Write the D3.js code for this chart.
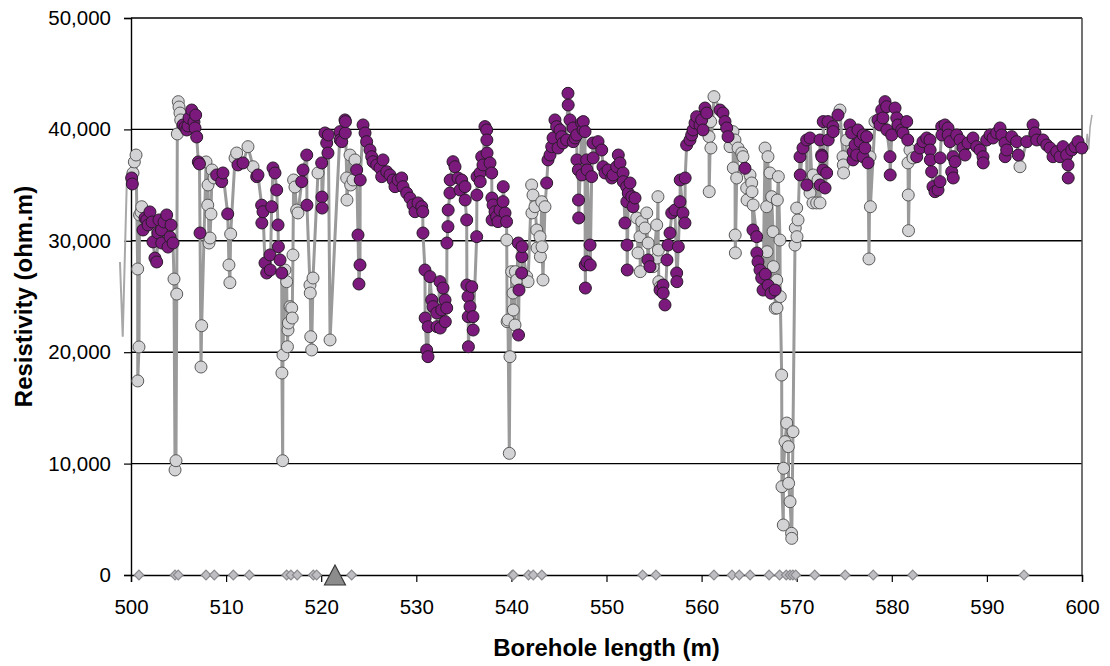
<!DOCTYPE html>
<html><head><meta charset="utf-8">
<script src="https://cdn.jsdelivr.net/npm/d3@7"></script>
<style>
body{margin:0;background:#fff}
svg{display:block}
text{font-family:"Liberation Sans",Arial,Helvetica,sans-serif}
</style>
</head><body>
<svg id="chart" width="1110" height="666"></svg>
<script>
// ---------- DATA ----------
const xTicks = [500,510,520,530,540,550,560,570,580,590,600];
const yTicks = [0,10000,20000,30000,40000,50000];
const xTitle = "Borehole length (m)";
const yTitle = "Resistivity (ohm.m)";

// grey-marked resistivity readings [borehole length m, resistivity ohm.m]
const grayPoints = [
[500.21,36090],[500.35,37080],[500.53,37700],
[500.70,27470],[500.71,17420],[500.84,20470],
[500.90,32320],[501.05,32590],[501.13,33060],
[504.52,26570],[504.63,9430],[504.73,10260],[504.81,25220],
[504.87,39590],[504.97,42490],[505.05,42010],[505.15,41470],[505.23,40850],
[507.36,18670],[507.43,22380],
[507.89,37080],[508.07,33200],[508.10,35010],[508.20,29800],[508.31,30250],[508.41,32400],[508.52,36360],[508.73,35640],
[510.30,27830],[510.40,26240],[510.48,30610],
[510.94,37430],[511.11,37880],[512.30,38450],[512.83,36650],
[515.87,18130],[515.95,10260],[515.98,19750],[516.19,27380],[516.37,26330],[516.45,20490],[516.51,21990],[516.55,22620],[516.72,24090],[516.90,23970],[516.95,23070],
[517.03,28730],[517.10,35460],[517.24,34830],[517.42,32760],[517.56,32500],
[518.82,26030],[518.85,25310],[518.90,21390],[519.00,20200],[519.14,26660],[519.66,36090],
[520.93,21100],
[522.68,35640],[522.71,33660],[523.03,37700],[523.10,35010],[523.34,35460],[523.55,37260],
[539.51,30070],[539.55,22740],[539.64,22890],[539.78,10920],[539.85,19600],[540.03,27230],[540.17,25310],[540.20,23790],[540.38,22440],[540.42,27230],[540.56,26480],
[541.61,26780],[541.75,26330],[542.13,35010],[542.16,32500],[542.27,34110],[542.48,33060],[542.66,30970],[542.70,29350],[543.01,30370],[543.05,28570],[543.19,33510],[543.22,29470],[543.32,26480],[543.53,33060],
[553.18,32050],[553.31,28910],[553.52,30370],[553.55,27230],[553.70,31720],[554.05,31150],[554.23,32500],[554.38,29800],[554.89,27680],[555.28,31420],[555.30,28450],[555.41,33960],[555.45,29170],[555.50,26330],[555.65,25880],
[560.78,39350],[560.80,34410],[560.95,40700],[560.98,38330],[561.30,42940],
[562.99,38450],[563.30,39800],[563.33,36540],[563.51,39050],[563.53,30520],[563.55,28910],[563.69,35640],[563.83,38330],[564.22,37880],[564.35,37550],[564.74,34740],[564.78,33660],[565.09,35910],[565.27,35190],[565.30,34410],[565.42,33220],
[566.67,38330],[566.84,33060],[566.88,29020],[566.98,37550],[567.19,36090],[567.37,33960],[567.51,30820],[567.55,27680],[567.74,23940],[567.90,26480],[567.93,23970],[567.96,33660],[568.07,35760],[568.24,30070],[568.27,24990],
[568.42,17950],[568.45,7930],[568.59,4490],[568.62,9580],[568.77,11970],[568.95,13640],[569.12,11520],[569.15,8230],[569.30,6580],[569.46,3740],[569.48,3290],[569.61,12860],
[569.82,29620],[569.85,31150],[570.00,32940],[570.03,30370],[570.14,31870],
[571.40,34290],[571.71,33400],[571.74,35910],[572.10,33400],[572.24,35460],[572.45,33400],
[574.55,41740],[574.87,37550],[574.90,36810],[574.93,36090],[575.26,39050],
[577.60,28370],[577.71,37550],[577.75,33060],[578.23,40700],
[581.70,36990],[581.73,34110],[581.76,30910],[581.91,38150],[582.23,37440],
[593.48,36650]
];

// purple-marked resistivity readings [borehole length m, resistivity ohm.m]
const purplePoints = [
[500.07,35640],[500.14,35100],
[501.26,30970],[501.47,32050],[501.65,31870],[501.79,31420],[501.99,32590],[502.21,31690],[502.31,29900],[502.52,28450],[502.70,28100],[502.84,30700],[502.94,31870],[503.20,30970],[503.23,29800],[503.47,31690],[503.75,32320],[503.89,29440],[504.10,30340],[504.21,31420],[504.42,29800],
[505.47,40400],[505.68,40220],[505.86,39950],[505.99,40310],[506.10,41030],[506.38,41740],[506.62,40670],[506.73,40130],[506.80,41290],[506.91,39320],[507.08,37080],[507.20,36900],[507.26,30700],
[509.01,35910],[509.54,35310],[509.67,36090],[510.17,32410],
[511.25,36810],[511.78,36990],[513.22,35760],[513.35,35910],
[513.74,33200],[513.76,31600],[513.88,32610],[514.09,28010],[514.27,27110],[514.62,28730],[514.65,27380],[514.79,33060],[514.93,36540],[515.14,36090],[515.32,34560],[515.46,31420],[515.50,29470],[515.67,28280],[515.85,27110],
[517.95,35310],[518.09,36360],[518.48,37700],[518.50,33200],
[520.05,36990],[520.08,33930],[520.10,32940],[520.40,39680],[520.58,38780],[520.71,37880],[520.75,39500],
[521.98,39800],[522.00,39050],[522.16,38900],[522.50,40850],[522.53,39680],[522.55,40700],
[523.73,36360],[523.87,30520],[523.97,26120],[524.08,27830],[524.10,35460],
[524.40,40400],[524.61,39680],[524.78,38900],[525.13,38150],[525.31,37550],[525.45,37100],[525.84,36810],[526.18,36540],[526.36,35760],[526.50,37260],[526.89,36200],[527.23,35910],[527.55,35460],[527.76,34860],[528.08,35460],[528.46,35640],[528.60,34860],[528.99,34290],[529.34,33840],[529.65,33220],[529.86,32610],[530.18,33400],[530.57,33060],[530.68,32610],[530.70,30700],[530.91,27380],[530.93,23070],[531.09,20200],[531.23,19600],[531.25,22290],[531.44,26780],[531.62,24690],[531.76,24090],[532.15,23520],[532.18,22290],[532.49,26330],[532.52,22170],[532.67,23790],[532.81,25760],[533.02,24690],[533.05,22740],[533.20,23970],[533.22,29800],[533.33,31270],[533.35,32760],[533.54,34290],[533.56,35460],[533.86,37100],[534.07,36650],[534.38,35640],[534.60,34560],[534.77,35460],[535.12,34860],[535.14,33660],[535.30,31870],[535.32,26030],[535.44,24990],[535.46,23190],[535.48,20490],[535.65,24090],[535.83,25880],[535.96,23190],[535.98,21990],[536.35,30370],[536.37,34110],[536.39,35760],[536.70,36090],[536.72,35310],[536.88,37550],[537.01,36810],[537.22,40250],[537.40,39950],[537.42,39050],[537.44,37880],[537.75,36990],[537.93,36090],[537.95,33840],[537.97,31870],[538.07,33220],[538.28,32610],[538.45,32160],[538.59,31720],[538.80,32760],[539.12,33510],[539.14,34860],[539.33,32500],[539.49,31720],
[540.73,29800],[540.75,21540],[540.80,25580],[541.08,27110],[541.10,28570],[541.12,29470],
[543.71,35190],[543.85,37260],[544.06,37700],[544.24,38450],[544.38,39230],[544.58,40850],[544.76,40250],[544.90,38330],[545.11,39950],[545.29,39350],[545.43,38780],[545.81,39050],[545.95,43240],[545.97,42190],[546.16,40850],[546.48,40130],[546.50,38900],[546.69,39230],[546.87,39500],[546.89,37260],[547.04,36360],[547.06,33660],[547.08,32050],[547.39,40580],[547.41,35910],[547.53,39950],[547.56,40700],[547.74,39800],[547.76,27830],[547.78,25760],[547.92,37260],[547.94,28120],[547.96,36360],[548.27,29620],[548.29,27830],[548.44,35760],[548.58,38780],[548.60,37440],[549.11,38900],[549.50,38150],[549.63,36650],[549.84,36090],[550.16,36360],[550.55,35640],[550.68,35910],[551.07,36650],[551.24,37700],[551.42,36990],[551.74,36090],[551.76,35310],[551.94,31600],[552.12,34860],[552.14,33510],[552.16,29620],[552.18,27380],[552.29,34290],[552.47,35190],[552.65,33960],[552.79,33060],[553.00,33840],
[554.36,28280],[554.57,27680],[555.63,25580],[555.94,26030],[555.96,25310],[556.15,24240],[556.36,28280],[556.47,29620],[556.68,30700],[556.86,32500],[557.20,32760],[557.38,27110],[557.40,26330],[557.55,29470],[557.73,33510],[557.75,35460],[558.04,32500],[558.25,31600],[558.27,35640],[558.43,38600],[558.78,39050],[558.96,39500],[559.10,39950],[559.31,40580],[559.48,41140],[559.83,40400],[560.01,40850],[560.15,39950],[560.36,41920],[560.54,41470],
[561.94,41740],[562.25,41470],[562.46,40700],[562.64,40130],[562.78,39350],
[564.56,36510],[565.40,30970],[565.79,30370],[565.81,28910],[565.93,28120],[566.14,27380],[566.32,26660],[566.46,25580],[566.70,27000],[567.00,26000],[567.30,25300],[567.72,25580],
[570.35,37550],[570.37,35910],[570.66,38330],[571.05,39050],[571.07,35010],[571.40,39230],[572.45,39050],[572.47,35010],[572.63,37700],[572.65,37550],[572.77,36360],[572.79,40700],[572.98,34740],[573.15,36090],[573.29,40700],[573.31,39050],[573.82,40250],[573.84,39800],[574.34,41290],
[575.60,40400],[575.78,39680],[575.92,37260],[575.94,38000],[576.13,38600],[576.31,37700],[576.44,39950],[576.65,38900],[576.97,37550],[576.99,39500],[577.18,38330],[577.36,39350],[577.50,36990],
[578.55,40850],[578.76,40400],[578.94,41740],[579.07,41030],[579.29,42490],[579.46,42040],[579.48,39950],[579.81,37550],[579.83,35910],[579.99,39500],[580.34,41920],[580.52,41030],[580.65,40400],[581.04,39950],[581.18,39680],[581.57,40700],[581.68,39050],
[582.62,37550],[582.97,38330],[583.28,38900],[583.67,39230],[584.01,39050],[584.03,38150],[584.05,37260],[584.19,36200],[584.33,34860],[584.54,34410],[584.86,34560],[585.07,35310],[585.09,37440],[585.25,40250],[585.27,39500],[585.59,40400],[585.91,40130],[585.93,39500],[586.12,38900],[586.30,36200],[586.44,37550],[586.46,35640],[586.65,37100],
[586.82,39500],[587.17,39050],[587.49,38330],[587.70,37700],[588.01,38780],[588.54,39230],[588.93,38450],[589.27,38150],[589.59,37550],[589.61,36990],[589.98,39050],[590.33,39500],[590.64,39230],[591.03,39680],[591.38,40130],[591.56,39500],[591.90,38780],[591.92,37550],[592.08,38150],[592.61,39350],[593.13,38900],[593.30,37700],[594.19,38900],[594.85,40400],[595.06,39680],[595.24,39050],[595.90,39050],[596.29,38600],[596.64,38330],[596.95,37550],[597.34,38000],[597.69,37550],[598.00,38450],[598.39,37700],[598.53,36810],[598.55,35640],[598.92,38150],[599.26,38450],[599.58,38900],[599.97,38330]
];

// trace segments drawn past the plot edges
const leftTail = [[498.84,28100],[499.00,24400],[499.13,21400],[499.58,36000],[499.80,36200]];
const rightTail = [[600.15,38600],[600.35,37800],[600.55,39600],[600.70,38200],[600.85,40200],[601.05,41300]];

// markers on the zero line
const fractureDepths = [500.84,504.63,504.97,507.89,508.76,510.76,512.44,516.37,516.82,517.48,519.17,519.52,523.2,540.1,540.2,541.8,542.3,543.2,553.8,555.2,561.3,563.2,563.96,565.1,567.1,568.2,568.9,569.3,569.6,569.9,571.9,575.1,578.05,582.2,593.9];
const triangleDepths = [521.45];

// ---------- CHART ----------
const svg = d3.select("#chart");
const X0 = 131, X1 = 1082, Y0 = 575, Y1 = 18;
const x = d3.scaleLinear().domain([500,600]).range([X0,X1]);
const y = d3.scaleLinear().domain([0,50000]).range([Y0,Y1]);

// gridlines
svg.append("g").selectAll("line").data(yTicks.filter(d=>d>0)).join("line")
  .attr("x1",X0).attr("x2",X1).attr("y1",d=>y(d)).attr("y2",d=>y(d))
  .attr("stroke","#000").attr("stroke-width",1.4);
// right border
svg.append("line").attr("x1",X1).attr("x2",X1).attr("y1",Y1).attr("y2",Y0)
  .attr("stroke","#444").attr("stroke-width",1.5);

// axes
const yAxis = svg.append("g").attr("transform",`translate(${X0},0)`)
  .call(d3.axisLeft(y).tickValues(yTicks).tickSize(7).tickPadding(13).tickFormat(d3.format(",")));
const xAxis = svg.append("g").attr("transform",`translate(0,${Y0})`)
  .call(d3.axisBottom(x).tickValues(xTicks).tickSize(7).tickPadding(17).tickFormat(d3.format("d")));
[yAxis,xAxis].forEach(g=>{
  g.select(".domain").attr("stroke","#000").attr("stroke-width",1.4);
  g.selectAll(".tick line").attr("stroke","#000").attr("stroke-width",1.2);
  g.selectAll(".tick text").attr("fill","#000").style("font-size","20.5px")
    .style("font-family",'"Liberation Sans",Arial,sans-serif');
});

// main trace
const allPts = grayPoints.concat(purplePoints).sort((a,b)=>a[0]-b[0]);
const line = d3.line().x(d=>x(d[0])).y(d=>y(d[1]));
svg.append("path").datum(allPts).attr("d",line)
  .attr("fill","none").attr("stroke","#9a9a9a").attr("stroke-width",3).attr("stroke-linejoin","round");
svg.append("path").datum(leftTail.concat([allPts[0]])).attr("d",line)
  .attr("fill","none").attr("stroke","#a8a8a8").attr("stroke-width",2);
svg.append("path").datum([allPts[allPts.length-1]].concat(rightTail)).attr("d",line)
  .attr("fill","none").attr("stroke","#a8a8a8").attr("stroke-width",1.5);

// markers
svg.append("g").selectAll("circle").data(grayPoints).join("circle")
  .attr("cx",d=>x(d[0])).attr("cy",d=>y(d[1])).attr("r",6)
  .attr("fill","#d3d3d6").attr("stroke","#5a5a5a").attr("stroke-width",1);
svg.append("g").selectAll("circle").data(purplePoints).join("circle")
  .attr("cx",d=>x(d[0])).attr("cy",d=>y(d[1])).attr("r",6)
  .attr("fill","#7b1a7c").attr("stroke","#2a1a2a").attr("stroke-width",1);

// zero-line diamonds
const diamond = d3.symbol().type(d3.symbolDiamond2).size(60);
svg.append("g").selectAll("path").data(fractureDepths).join("path")
  .attr("d",diamond).attr("transform",d=>`translate(${x(d)},${y(0)})`)
  .attr("fill","#bfbfc3").attr("stroke","#8a8a8e").attr("stroke-width",1.2);
// triangle
svg.append("g").selectAll("path").data(triangleDepths).join("path")
  .attr("d",d=>{const cx=x(d), cy=y(0); return `M${cx},${cy-10}L${cx+10.5},${cy+10}L${cx-10.5},${cy+10}Z`;})
  .attr("fill","#8c8c8c").attr("stroke","#3a3a3a").attr("stroke-width",1.2);

// titles
svg.append("text").attr("x",(X0+X1)/2).attr("y",656).attr("text-anchor","middle")
  .style("font-size","24px").style("font-weight","bold").text(xTitle);
svg.append("text").attr("transform",`translate(32,${(Y0+Y1)/2}) rotate(-90)`).attr("text-anchor","middle")
  .style("font-size","24px").style("font-weight","bold").text(yTitle);
</script>
</body></html>
